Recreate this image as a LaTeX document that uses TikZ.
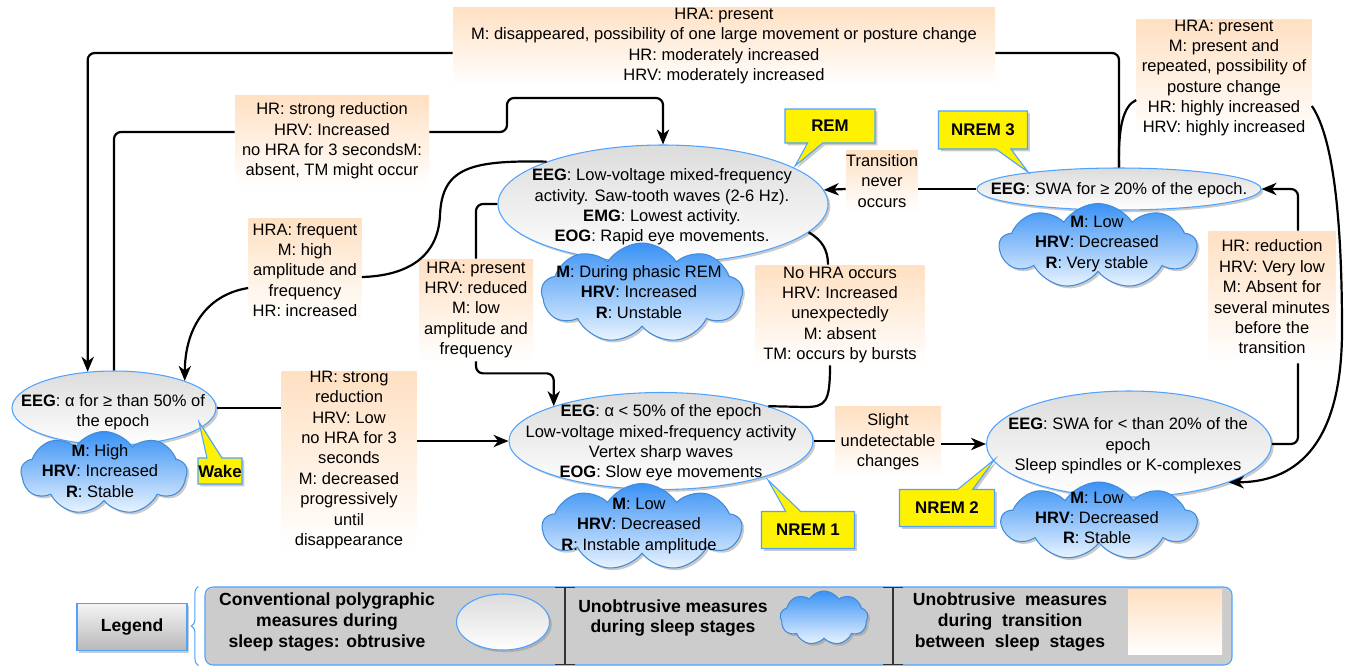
\documentclass[tikz,border=0pt]{standalone}
\usepackage{fontspec}
\setmainfont{Liberation Sans}
\usetikzlibrary{calc,arrows.meta,shapes.geometric,shapes.symbols,shapes.callouts,shadows,decorations.pathreplacing}
\definecolor{stageedge}{HTML}{4DA3FF}
\definecolor{stagegray}{HTML}{DCDCDC}
\definecolor{cloudblue}{HTML}{3A92F5}
\definecolor{cloudlight}{HTML}{EAF4FF}
\definecolor{peach}{HTML}{FFE0C2}
\definecolor{panelgray}{HTML}{CCCCCC}
\newcommand{\diagfont}{\fontsize{9.4}{11.6}\selectfont}
\newcommand{\legendfont}{\bfseries\fontsize{10}{11.9}\selectfont}
\tikzset{
  px box/.style 2 args={minimum width=#1*0.02cm,minimum height=#2*0.02cm},
  soft shadow/.style={drop shadow={shadow xshift=1.3pt,shadow yshift=-1.3pt,fill=black!45,opacity=0.45}},
  stage/.style={ellipse,draw=stageedge,line width=0.6pt,top color=stagegray,
    bottom color=white,inner sep=0pt,soft shadow},
  measure/.style={cloud,cloud puffs=9,cloud puff arc=115,cloud ignores aspect,
    draw=stageedge!85!black,line width=0.6pt,top color=cloudblue,
    bottom color=cloudlight,inner sep=0pt,soft shadow},
  trans/.style={rectangle,inner sep=0pt,top color=peach,bottom color=white,
    align=center,font=\diagfont},
  stagetext/.style={align=center,font=\diagfont,inner sep=0pt},
  stagetag/.style={rectangle callout,fill=yellow,draw=stageedge,line width=0.6pt,
    font=\bfseries\fontsize{9.6}{11}\selectfont,inner sep=0pt,
    callout pointer width=0.3cm,soft shadow},
  flow/.style={draw=black,line width=1.25pt},
  arrowflow/.style={flow,-{Stealth[length=8.5pt,width=7pt,inset=2.6pt]}},
  panel/.style={rectangle,rounded corners=4.5pt,fill=panelgray,draw=stageedge,
    line width=0.6pt,inner sep=0pt},
  legendbox/.style={rectangle,draw=stageedge,line width=0.6pt,top color=black!4,
    bottom color=black!28,font=\legendfont,inner sep=0pt,soft shadow},
  legendtext/.style={align=center,font=\legendfont,inner sep=0pt},
  sepline/.style={draw=black!80,line width=0.7pt,{Bar[width=11pt]}-{Bar[width=11pt]}}
}
\begin{document}
\begin{tikzpicture}[x=0.02cm,y=-0.02cm]
  \useasboundingbox (0,0) rectangle (1351,667);

  \node[stage,px box={204}{74}] (wake) at (114,408) {};
  \node[stagetext] (waket) at (113,412) {\textbf{EEG}: α for ≥ than 50\% of\\the epoch};
  \node[measure,px box={166}{83}] (wakecl) at (104,473) {};
  \node[stagetext] (wakeclt) at (100,471) {\textbf{M}: High\\\textbf{HRV}: Increased\\\textbf{R}: Stable};

  \node[stage,px box={330}{118}] (rem) at (663,204) {};
  \node[stagetext] (remt) at (662,207) {\textbf{EEG}: Low-voltage mixed-frequency\\activity. Saw-tooth waves (2-6 Hz).\\\textbf{EMG}: Lowest activity.\\\textbf{EOG}: Rapid eye movements.};
  \node[measure,px box={201}{100}] (remcl) at (642,293) {};
  \node[stagetext] (remclt) at (639,292) {\textbf{M}: During phasic REM\\\textbf{HRV}: Increased\\\textbf{R}: Unstable};

  \node[stage,px box={284}{42}] (nthree) at (1119,189) {};
  \node[stagetext] (nthreet) at (1119,190) {\textbf{EEG}: SWA for ≥ 20\% of the epoch.};
  \node[measure,px box={197}{85}] (nthreecl) at (1098,246) {};
  \node[stagetext] (nthreeclt) at (1097,244) {\textbf{M}: Low\\\textbf{HRV}: Decreased\\\textbf{R}: Very stable};

  \node[stage,px box={304}{97}] (none) at (661,441) {};
  \node[stagetext] (nonet) at (661,443) {\textbf{EEG}: α < 50\% of the epoch\\Low-voltage mixed-frequency activity\\Vertex sharp waves\\\textbf{EOG}: Slow eye movements};
  \node[measure,px box={199}{87}] (nonecl) at (642,527) {};
  \node[stagetext] (noneclt) at (639,526) {\textbf{M}: Low\\\textbf{HRV}: Decreased\\\textbf{R}: Instable amplitude};

  \node[stage,px box={285}{106}] (ntwo) at (1129,444) {};
  \node[stagetext] (ntwot) at (1128,446) {\textbf{EEG}: SWA for < than 20\% of the\\epoch\\Sleep spindles or K-complexes};
  \node[measure,px box={195}{78}] (ntwocl) at (1099,521) {};
  \node[stagetext] (ntwoclt) at (1097,518) {\textbf{M}: Low\\\textbf{HRV}: Decreased\\\textbf{R}: Stable};

  \node[stagetag,px box={44}{26},callout absolute pointer={(199,422)}] (waketag) at (220,471) {Wake};
  \node[stagetag,px box={90}{34},callout absolute pointer={(795,166)}] (remtag) at (830,126) {REM};
  \node[stagetag,px box={89}{38},callout absolute pointer={(1028,172)}] (nthreetag) at (983,130) {NREM 3};
  \node[stagetag,px box={93}{37},callout absolute pointer={(768,480)}] (nonetag) at (808,530) {NREM 1};
  \node[stagetag,px box={95}{37},callout absolute pointer={(995,459)}] (ntwotag) at (947,508) {NREM 2};

  \node[trans,px box={542}{78}] (t1) at (724,46) {HRA: present\\M: disappeared, possibility of one large movement or posture change\\HR: moderately increased\\HRV: moderately increased};
  \node[trans,px box={194}{92}] (t2) at (332,141) {HR: strong reduction\\HRV: Increased\\no HRA for 3 secondsM:\\absent, TM might occur};
  \node[trans,px box={113}{104}] (t3) at (305,270) {HRA: frequent\\M: high\\amplitude and\\frequency\\HR: increased};
  \node[trans,px box={114}{102}] (t4) at (476,310) {HRA: present\\HRV: reduced\\M: low\\amplitude and\\frequency};
  \node[trans,px box={169}{100}] (t5) at (840,315) {No HRA occurs\\HRV: Increased\\unexpectedly\\M: absent\\TM: occurs by bursts};
  \node[trans,px box={68}{62}] (t6) at (882,181) {Transition\\never\\occurs};
  \node[trans,px box={175}{117}] (t7) at (1224,78) {HRA: present\\M: present and\\repeated, possibility of\\posture change\\HR: highly increased\\HRV: highly increased};
  \node[trans,px box={127}{132}] (t8) at (1272,297) {HR: reduction\\HRV: Very low\\M: Absent for\\several minutes\\before the\\transition};
  \node[trans,px box={135}{177}] (t9) at (349,460) {HR: strong\\reduction\\HRV: Low\\no HRA for 3\\seconds\\M: decreased\\progressively\\until\\disappearance};
  \node[trans,px box={106}{71}] (t10) at (888,442) {Slight\\undetectable\\changes};

  \draw[flow,rounded corners=4pt] (nthree.north) |- ($(t1.east)+(0,7)$);
  \draw[arrowflow,rounded corners=4pt] ($(t1.west)+(0,7)$) -| (wake.126);
  \draw[flow,rounded corners=4pt] (wake.north) |- ($(t2.west)+(0,-9)$);
  \draw[arrowflow,rounded corners=4pt] ($(t2.east)+(0,-9)$) -| (507,98) -| (rem.north);
  \draw[flow] (rem.160) .. controls (470,160) and (442,168) .. (440,215)
    .. controls (438,262) and (400,276) .. ($(t3.east)+(0,7)$);
  \draw[arrowflow] ($(t3.west)+(0,18)$) .. controls (205,295) and (185,330) .. (wake.21);
  \draw[flow,rounded corners=4pt] (rem.west) -| (t4.north);
  \draw[arrowflow,rounded corners=4pt] (t4.south) -- ++(0,12) -| (none.162);
  \draw[flow] (rem.349) .. controls (822,240) and (828,250) .. ($(t5.north)+(-12,0)$);
  \draw[flow] ($(t5.south)+(-10,0)$) .. controls (830,402) and (826,407) .. (805,407) -- (none.18);
  \draw[flow] (nthree.west) -- (nthree.west -| t6.east);
  \draw[arrowflow] (nthree.west -| t6.west) -- (rem.5);
  \draw[flow] (nthree.north) .. controls (1118,128) and (1123,106) .. ($(t7.west)+(0,22)$);
  \draw[arrowflow] ($(t7.east)+(0,28)$) .. controls (1335,140) and (1342,230) .. (1342,330)
    .. controls (1342,440) and (1300,482) .. (ntwo.339);
  \draw[flow,rounded corners=4pt] (ntwo.east) -| ($(t8.south)+(26,0)$);
  \draw[arrowflow,rounded corners=4pt] ($(t8.north)+(26,0)$) |- (nthree.east);
  \draw[flow] (wake.east) -- (wake.east -| t9.west);
  \draw[arrowflow] (none.west -| t9.east) -- (none.west);
  \draw[flow] (none.east) -- (none.east -| t10.west);
  \draw[arrowflow] (ntwo.west -| t10.east) -- (ntwo.west);

  \node[legendbox,px box={110}{47}] (legend) at (132,627) {Legend};
  \node[panel,px box={1027}{78}] (panel) at (718.5,626) {};
  \draw[stageedge,line width=0.6pt,decorate,decoration={brace,amplitude=4pt}]
    ($(panel.south west)+(-6,0)$) -- ($(panel.north west)+(-6,0)$);
  \node[legendtext] (lgconv) at (327,622) {Conventional polygraphic\\measures during\\sleep stages: obtrusive};
  \node[stage,px box={93}{56}] (lgstage) at (503,622) {};
  \draw[sepline] (565,587) -- (565,665);
  \node[legendtext] (lgunob) at (673,618) {Unobtrusive measures\\during sleep stages};
  \node[measure,px box={88}{54}] (lgmeasure) at (824,618) {};
  \draw[sepline] (893,587) -- (893,665);
  \node[legendtext] (lgtrans) at (1010,622) {Unobtrusive\ \ measures\\during\ \ transition\\between\ \ sleep\ \ stages};
  \node[trans,px box={94}{65}] (lgpeach) at (1175,622) {};
\end{tikzpicture}
\end{document}
